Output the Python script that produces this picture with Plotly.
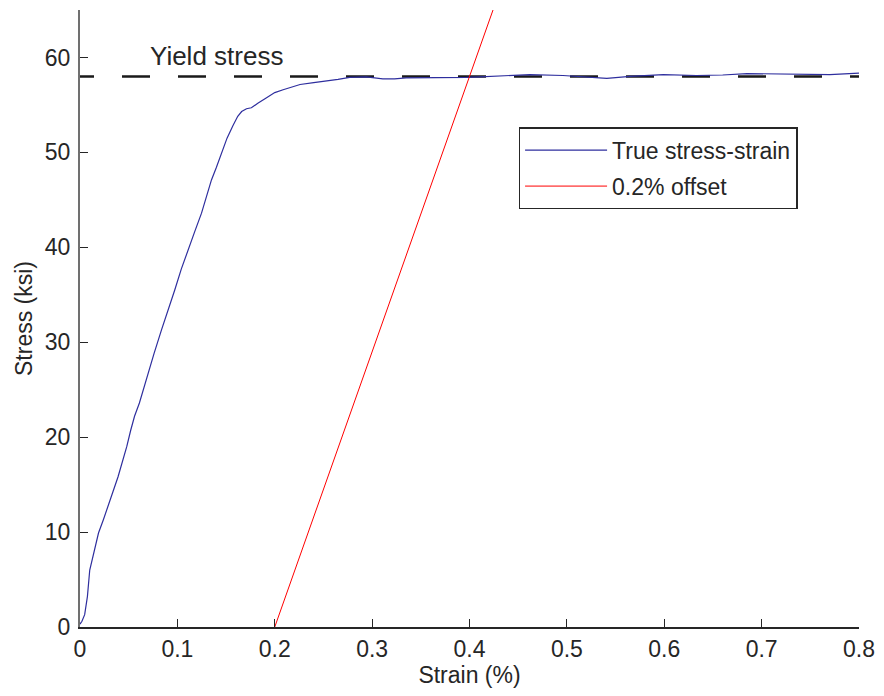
import plotly.graph_objects as go

# ---- data ----
strain = [0.000, 0.002, 0.0048, 0.0076, 0.010, 0.015, 0.019, 0.024, 0.029, 0.034, 0.039,
          0.044, 0.048, 0.052, 0.056, 0.061, 0.065, 0.0706, 0.076, 0.0837, 0.090, 0.0973,
          0.104, 0.111, 0.118, 0.1248, 0.130, 0.135, 0.140, 0.1453, 0.151, 0.157, 0.162,
          0.166, 0.171, 0.176, 0.180, 0.183, 0.1916, 0.200, 0.2086, 0.217, 0.226, 0.240,
          0.253, 0.265, 0.277, 0.294, 0.311, 0.323, 0.335, 0.350, 0.363, 0.380, 0.397,
          0.411, 0.435, 0.462, 0.496, 0.520, 0.541, 0.565, 0.599, 0.633, 0.660, 0.685,
          0.710, 0.736, 0.770, 0.800]
stress = [0.3, 0.6, 1.3, 3.2, 6.0, 8.1, 9.9, 11.3, 12.7, 14.3, 15.8,
          17.5, 19.0, 20.7, 22.2, 23.6, 25.0, 27.1, 28.8, 31.3, 33.2, 35.5,
          37.7, 39.8, 41.7, 43.6, 45.3, 47.1, 48.4, 49.95, 51.5, 52.8, 53.8,
          54.3, 54.6, 54.7, 55.0, 55.2, 55.75, 56.3, 56.6, 56.9, 57.15, 57.35,
          57.5, 57.7, 57.9, 57.95, 57.75, 57.75, 57.85, 57.85, 57.9, 57.9, 57.9,
          57.95, 58.05, 58.2, 58.1, 57.95, 57.8, 58.0, 58.2, 58.1, 58.15, 58.3,
          58.25, 58.2, 58.2, 58.35]

offset_strain = [0.2, 0.45]
offset_stress = [0.0, 72.5]

yield_stress = 58.0
yield_strain_span = [0.0, 0.8]

x_ticks = [0, 0.1, 0.2, 0.3, 0.4, 0.5, 0.6, 0.7, 0.8]
x_tick_text = ["0", "0.1", "0.2", "0.3", "0.4", "0.5", "0.6", "0.7", "0.8"]
y_ticks = [0, 10, 20, 30, 40, 50, 60]
y_tick_text = ["0", "10", "20", "30", "40", "50", "60"]

FONT = "Liberation Sans, Arial, Helvetica, sans-serif"
DARK = "#262626"

fig = go.Figure()

fig.add_trace(go.Scatter(
    x=yield_strain_span, y=[yield_stress, yield_stress], mode="lines",
    line=dict(color="#1a1a1a", width=2.5, dash="14px,28px,14px,0px"),
    showlegend=False, hoverinfo="skip"))

fig.add_trace(go.Scatter(
    x=strain, y=stress, mode="lines", name="True stress-strain",
    line=dict(color="#2e2e9e", width=1.2), legendgroup="a"))

fig.add_trace(go.Scatter(
    x=offset_strain, y=offset_stress, mode="lines", name="0.2% offset",
    line=dict(color="#ff0000", width=1), legendgroup="b"))

fig.add_annotation(x=0.14, y=60.2, xref="x", yref="y", text="Yield stress",
                   showarrow=False, font=dict(family=FONT, size=26, color=DARK),
                   xanchor="center", yanchor="middle")

fig.update_layout(
    width=884, height=696,
    margin=dict(l=72, r=33, t=2, b=77),
    paper_bgcolor="white", plot_bgcolor="white",
    font=dict(family=FONT, size=23, color=DARK),
    legend=dict(x=0.563, y=0.810, xanchor="left", yanchor="top",
                bgcolor="white", bordercolor=DARK, borderwidth=1.5,
                font=dict(family=FONT, size=23, color=DARK),
                traceorder="grouped", tracegroupgap=3, itemwidth=82),
    showlegend=True,
)

fig.update_xaxes(
    range=[0, 0.8], tickvals=x_ticks, ticktext=x_tick_text,
    showgrid=False, zeroline=False, showline=True, linecolor=DARK, linewidth=1.5,
    ticks="inside", ticklen=8, tickcolor=DARK, tickwidth=1,
    ticklabelstandoff=1,
    title=dict(text="Strain (%)", font=dict(size=23), standoff=2),
    mirror=False)

fig.update_yaxes(
    range=[0, 65], tickvals=y_ticks, ticktext=y_tick_text,
    showgrid=False, zeroline=False, showline=True, linecolor="#707070", linewidth=2,
    ticks="inside", ticklen=8, tickcolor=DARK, tickwidth=1,
    ticklabelstandoff=3,
    title=dict(text="Stress (ksi)", font=dict(size=23), standoff=6),
    mirror=False)

fig.write_html("out.html")
